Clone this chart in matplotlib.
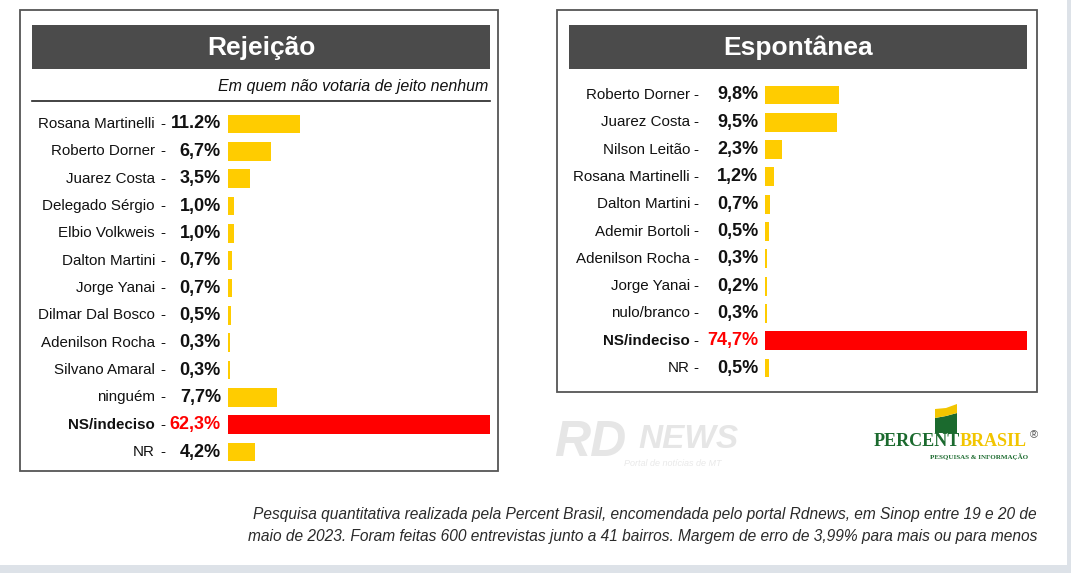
import matplotlib
matplotlib.use("Agg")
import matplotlib.pyplot as plt
from matplotlib.patches import Rectangle, Polygon
from matplotlib import transforms
from matplotlib import font_manager

# ---------------- data ----------------
rej_names = ["Rosana Martinelli", "Roberto Dorner", "Juarez Costa", "Delegado Sérgio",
             "Elbio Volkweis", "Dalton Martini", "Jorge Yanai", "Dilmar Dal Bosco",
             "Adenilson Rocha", "Silvano Amaral", "ninguém", "NS/indeciso", "NR"]
rej_values = [11.2, 6.7, 3.5, 1.0, 1.0, 0.7, 0.7, 0.5, 0.3, 0.3, 7.7, 62.3, 4.2]
rej_labels = ["11.2%", "6,7%", "3,5%", "1,0%", "1,0%", "0,7%", "0,7%", "0,5%",
              "0,3%", "0,3%", "7,7%", "62,3%", "4,2%"]

esp_names = ["Roberto Dorner", "Juarez Costa", "Nilson Leitão", "Rosana Martinelli",
             "Dalton Martini", "Ademir Bortoli", "Adenilson Rocha", "Jorge Yanai",
             "nulo/branco", "NS/indeciso", "NR"]
esp_values = [9.8, 9.5, 2.3, 1.2, 0.7, 0.5, 0.3, 0.2, 0.3, 74.7, 0.5]
esp_labels = ["9,8%", "9,5%", "2,3%", "1,2%", "0,7%", "0,5%", "0,3%", "0,2%",
              "0,3%", "74,7%", "0,5%"]

highlight = "NS/indeciso"

title_rej = "Rejeição"
subtitle_rej = "Em quem não votaria de jeito nenhum"
title_esp = "Espontânea"
footer = ("Pesquisa quantitativa realizada pela Percent Brasil, encomendada pelo portal Rdnews, em Sinop entre 19 e 20 de\n"
          "maio de 2023. Foram feitas 600 entrevistas junto a 41 bairros. Margem de erro de 3,99% para mais ou para menos")

# ---------------- style ----------------
W, H = 1071, 573
YELLOW = "#FFCC00"
RED = "#FF0000"
DARK = "#4B4B4B"
avail = {f.name for f in font_manager.fontManager.ttflist}
NARROW = "Liberation Sans Narrow" if "Liberation Sans Narrow" in avail else "Liberation Sans"
name_size = 12.5 if NARROW == "Liberation Sans Narrow" else 10.9
plt.rcParams["font.family"] = ["Liberation Sans", "DejaVu Sans"]

fig = plt.figure(figsize=(W / 100, H / 100), dpi=100)
fig.patch.set_facecolor("white")


def fx(x):
    return x / W


def fy(y):
    return 1 - y / H


def rect(x0, y0, x1, y1, **kw):
    r = Rectangle((fx(x0), fy(y1)), fx(x1) - fx(x0), fy(y0) - fy(y1),
                  transform=fig.transFigure, **kw)
    fig.add_artist(r)
    return r


# page border strips
rect(1067, 0, 1071, 573, facecolor="#DDE2E8", edgecolor="none")
rect(0, 565, 1071, 573, facecolor="#DDE2E8", edgecolor="none")


def panel(names, values, labels, box, title_box, bar_x0, first_y, last_y,
          name_x, dash_x, pct_x, xmax, title):
    bx0, by0, bx1, by1 = box
    rect(bx0, by0, bx1, by1, facecolor="none", edgecolor="#555555", linewidth=1.3)
    tx0, tx1 = title_box
    rect(tx0, 25, tx1, 69, facecolor=DARK, edgecolor="none")
    fig.text(fx((tx0 + tx1) / 2), fy(48), title, color="white", fontsize=19,
             fontweight="bold", ha="center", va="center")

    n = len(names)
    step = (last_y - first_y) / (n - 1)
    top = first_y - step / 2
    bottom = last_y + step / 2
    ax = fig.add_axes([fx(bar_x0), fy(bottom), fx(tx1) - fx(bar_x0), fy(top) - fy(bottom)])
    ax.set_facecolor("none")
    colors = [RED if nm == highlight else YELLOW for nm in names]
    ax.barh(range(n), values, height=0.69, color=colors, edgecolor="none")
    ax.set_xlim(0, xmax)
    ax.set_ylim(n - 0.5, -0.5)
    ax.axis("off")

    tr = transforms.blended_transform_factory(fig.transFigure, ax.transData)
    for i, (nm, lab) in enumerate(zip(names, labels)):
        hi = nm == highlight
        ax.text(fx(name_x), i, nm, transform=tr, ha="right", va="center",
                fontsize=name_size, family=[NARROW, "DejaVu Sans"],
                fontweight="bold" if hi else "normal", color="#111111")
        ax.text(fx(dash_x), i, "-", transform=tr, ha="right", va="center",
                fontsize=name_size, family=[NARROW, "DejaVu Sans"], color="#111111")
        ax.text(fx(pct_x), i, lab, transform=tr, ha="right", va="center",
                fontsize=13, fontweight="bold", color=RED if hi else "#111111")
    return ax


panel(rej_names, rej_values, rej_labels, (20, 10, 498, 471), (32, 490), 228,
      124, 452, 155, 165, 221, 41.0, title_rej)
fig.text(fx(488), fy(86), subtitle_rej, fontsize=11.5, style="italic",
         ha="right", va="center", color="#111111")
fig.add_artist(plt.Line2D([fx(32), fx(490)], [fy(101), fy(101)],
                          transform=fig.transFigure, color="#222222", linewidth=1.2))

panel(esp_names, esp_values, esp_labels, (557, 10, 1037, 392), (569, 1027), 765,
      95, 368, 690, 698, 758, 34.5, title_esp)

# footer
fig.text(fx(1037), fy(525.5), footer, fontsize=11.2, style="italic", ha="right",
         va="center", color="#2A2A2A", linespacing=1.6)

# RD NEWS watermark
WM = "#E6E6E6"
fig.text(fx(554), fy(443), "RD", fontsize=36, fontweight="bold", style="italic",
         color=WM, ha="left", va="center")
fig.text(fx(638), fy(439), "NEWS", fontsize=24, fontweight="bold", style="italic",
         color=WM, ha="left", va="center")
fig.text(fx(624), fy(463), "Portal de notícias de MT", fontsize=6.5, style="italic",
         color="#E9E9E9", ha="left", va="center")

# Percent Brasil logo
GREEN = "#1B6A2E"
GOLD = "#F2C500"
flag_g = Polygon([(fx(935), fy(433)), (fx(935), fy(418)), (fx(946), fy(416)),
                  (fx(957), fy(413)), (fx(957), fy(433))],
                 closed=True, transform=fig.transFigure, facecolor=GREEN, edgecolor="none")
flag_y = Polygon([(fx(935), fy(418)), (fx(935), fy(409)), (fx(946), fy(408)),
                  (fx(957), fy(404)), (fx(957), fy(413)), (fx(946), fy(416))],
                 closed=True, transform=fig.transFigure, facecolor=GOLD, edgecolor="none")
fig.add_artist(flag_g)
fig.add_artist(flag_y)
fig.text(fx(960), fy(441), "PERCENT", fontsize=13, fontweight="bold",
         family="Liberation Serif", color=GREEN, ha="right", va="center")
fig.text(fx(960), fy(441), "BRASIL", fontsize=13, fontweight="bold",
         family="Liberation Serif", color=GOLD, ha="left", va="center")
fig.text(fx(1030), fy(435), "®", fontsize=8, color="#555555", ha="left", va="center")
fig.text(fx(1028), fy(457), "PESQUISAS & INFORMAÇÃO", fontsize=5, fontweight="bold",
         family="Liberation Serif", color=GREEN, ha="right", va="center")

fig.savefig("out.png", dpi=100, facecolor="white")
